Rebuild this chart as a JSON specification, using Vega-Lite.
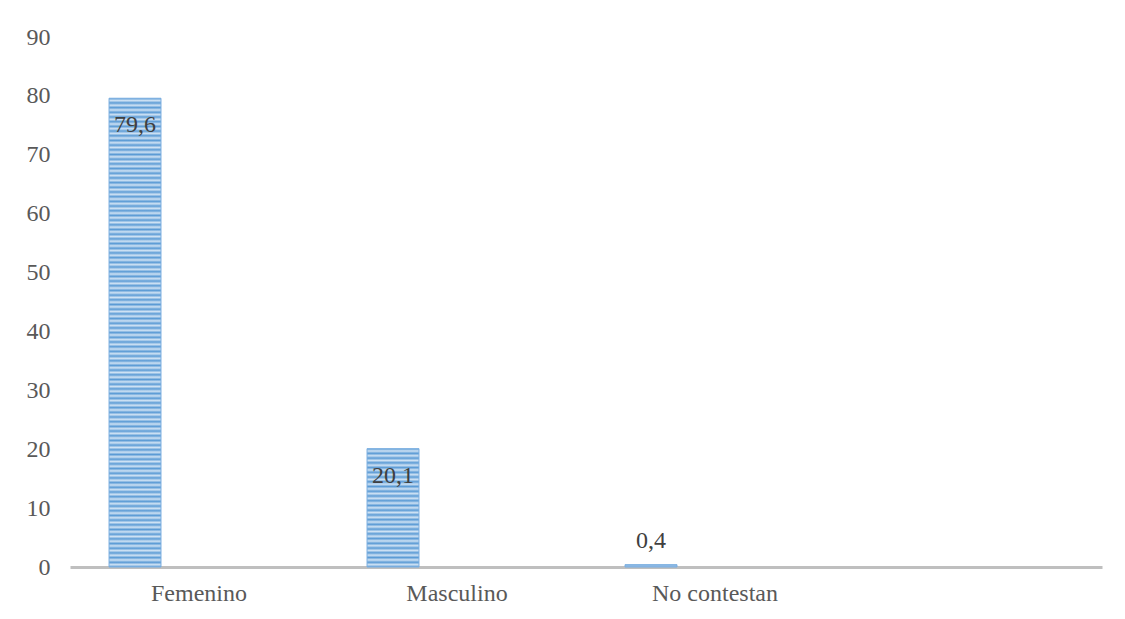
{
  "$schema": "https://vega.github.io/schema/vega-lite/v6.json",
  "width": 1032,
  "height": 530,
  "autosize": "none",
  "padding": {"left": 70, "top": 37, "right": 23, "bottom": 52},
  "background": "white",
  "config": {"view": {"stroke": null}, "font": "Liberation Serif"},
  "data": {
    "values": [
      {"categoria": "Femenino", "serie": "Porcentaje", "valor": 79.6, "etiqueta": "79,6"},
      {"categoria": "Masculino", "serie": "Porcentaje", "valor": 20.1, "etiqueta": "20,1"},
      {"categoria": "No contestan", "serie": "Porcentaje", "valor": 0.4, "etiqueta": "0,4"}
    ]
  },
  "encoding": {
    "x": {
      "field": "categoria",
      "type": "nominal",
      "sort": null,
      "scale": {"domain": ["Femenino", "Masculino", "No contestan", ""], "paddingInner": 0, "paddingOuter": 0},
      "axis": {
        "title": null,
        "labelAngle": 0,
        "ticks": false,
        "domainColor": "#BFBFBF",
        "domainWidth": 3,
        "labelFont": "Liberation Serif",
        "labelFontSize": 24,
        "labelColor": "#595959",
        "labelPadding": 14
      }
    },
    "xOffset": {
      "field": "serie",
      "type": "nominal",
      "scale": {"domain": ["Porcentaje", "vacío"], "paddingInner": 0.594, "paddingOuter": 0.305}
    },
    "y": {
      "field": "valor",
      "type": "quantitative",
      "scale": {"domain": [0, 90], "nice": false},
      "axis": {
        "title": null,
        "values": [0, 10, 20, 30, 40, 50, 60, 70, 80, 90],
        "grid": false,
        "domain": false,
        "ticks": false,
        "labelPadding": 20,
        "labelFont": "Liberation Serif",
        "labelFontSize": 24,
        "labelColor": "#595959"
      }
    }
  },
  "layer": [
    {
      "mark": {"type": "bar", "stroke": "#7AAEE0", "strokeWidth": 1},
      "encoding": {
        "color": {
          "condition": [
            {
              "test": "datum.categoria === 'Femenino'",
              "value": {
                "gradient": "linear", "x1": 0, "y1": 0, "x2": 0, "y2": 1,
                "stops": [
{"offset":0,"color":"#5B9BD5"},{"offset":0.005,"color":"#CFE2F4"},
{"offset":0.01,"color":"#5B9BD5"},{"offset":0.015,"color":"#CFE2F4"},
{"offset":0.02,"color":"#5B9BD5"},{"offset":0.025,"color":"#CFE2F4"},
{"offset":0.03,"color":"#5B9BD5"},{"offset":0.035,"color":"#CFE2F4"},
{"offset":0.04,"color":"#5B9BD5"},{"offset":0.045,"color":"#CFE2F4"},
{"offset":0.05,"color":"#5B9BD5"},{"offset":0.055,"color":"#CFE2F4"},
{"offset":0.06,"color":"#5B9BD5"},{"offset":0.065,"color":"#CFE2F4"},
{"offset":0.07,"color":"#5B9BD5"},{"offset":0.075,"color":"#CFE2F4"},
{"offset":0.08,"color":"#5B9BD5"},{"offset":0.085,"color":"#CFE2F4"},
{"offset":0.09,"color":"#5B9BD5"},{"offset":0.095,"color":"#CFE2F4"},
{"offset":0.1,"color":"#5B9BD5"},{"offset":0.105,"color":"#CFE2F4"},
{"offset":0.11,"color":"#5B9BD5"},{"offset":0.115,"color":"#CFE2F4"},
{"offset":0.12,"color":"#5B9BD5"},{"offset":0.125,"color":"#CFE2F4"},
{"offset":0.13,"color":"#5B9BD5"},{"offset":0.135,"color":"#CFE2F4"},
{"offset":0.14,"color":"#5B9BD5"},{"offset":0.145,"color":"#CFE2F4"},
{"offset":0.15,"color":"#5B9BD5"},{"offset":0.155,"color":"#CFE2F4"},
{"offset":0.16,"color":"#5B9BD5"},{"offset":0.165,"color":"#CFE2F4"},
{"offset":0.17,"color":"#5B9BD5"},{"offset":0.175,"color":"#CFE2F4"},
{"offset":0.18,"color":"#5B9BD5"},{"offset":0.185,"color":"#CFE2F4"},
{"offset":0.19,"color":"#5B9BD5"},{"offset":0.195,"color":"#CFE2F4"},
{"offset":0.2,"color":"#5B9BD5"},{"offset":0.205,"color":"#CFE2F4"},
{"offset":0.21,"color":"#5B9BD5"},{"offset":0.215,"color":"#CFE2F4"},
{"offset":0.22,"color":"#5B9BD5"},{"offset":0.225,"color":"#CFE2F4"},
{"offset":0.23,"color":"#5B9BD5"},{"offset":0.235,"color":"#CFE2F4"},
{"offset":0.24,"color":"#5B9BD5"},{"offset":0.245,"color":"#CFE2F4"},
{"offset":0.25,"color":"#5B9BD5"},{"offset":0.255,"color":"#CFE2F4"},
{"offset":0.26,"color":"#5B9BD5"},{"offset":0.265,"color":"#CFE2F4"},
{"offset":0.27,"color":"#5B9BD5"},{"offset":0.275,"color":"#CFE2F4"},
{"offset":0.28,"color":"#5B9BD5"},{"offset":0.285,"color":"#CFE2F4"},
{"offset":0.29,"color":"#5B9BD5"},{"offset":0.295,"color":"#CFE2F4"},
{"offset":0.3,"color":"#5B9BD5"},{"offset":0.305,"color":"#CFE2F4"},
{"offset":0.31,"color":"#5B9BD5"},{"offset":0.315,"color":"#CFE2F4"},
{"offset":0.32,"color":"#5B9BD5"},{"offset":0.325,"color":"#CFE2F4"},
{"offset":0.33,"color":"#5B9BD5"},{"offset":0.335,"color":"#CFE2F4"},
{"offset":0.34,"color":"#5B9BD5"},{"offset":0.345,"color":"#CFE2F4"},
{"offset":0.35,"color":"#5B9BD5"},{"offset":0.355,"color":"#CFE2F4"},
{"offset":0.36,"color":"#5B9BD5"},{"offset":0.365,"color":"#CFE2F4"},
{"offset":0.37,"color":"#5B9BD5"},{"offset":0.375,"color":"#CFE2F4"},
{"offset":0.38,"color":"#5B9BD5"},{"offset":0.385,"color":"#CFE2F4"},
{"offset":0.39,"color":"#5B9BD5"},{"offset":0.395,"color":"#CFE2F4"},
{"offset":0.4,"color":"#5B9BD5"},{"offset":0.405,"color":"#CFE2F4"},
{"offset":0.41,"color":"#5B9BD5"},{"offset":0.415,"color":"#CFE2F4"},
{"offset":0.42,"color":"#5B9BD5"},{"offset":0.425,"color":"#CFE2F4"},
{"offset":0.43,"color":"#5B9BD5"},{"offset":0.435,"color":"#CFE2F4"},
{"offset":0.44,"color":"#5B9BD5"},{"offset":0.445,"color":"#CFE2F4"},
{"offset":0.45,"color":"#5B9BD5"},{"offset":0.455,"color":"#CFE2F4"},
{"offset":0.46,"color":"#5B9BD5"},{"offset":0.465,"color":"#CFE2F4"},
{"offset":0.47,"color":"#5B9BD5"},{"offset":0.475,"color":"#CFE2F4"},
{"offset":0.48,"color":"#5B9BD5"},{"offset":0.485,"color":"#CFE2F4"},
{"offset":0.49,"color":"#5B9BD5"},{"offset":0.495,"color":"#CFE2F4"},
{"offset":0.5,"color":"#5B9BD5"},{"offset":0.505,"color":"#CFE2F4"},
{"offset":0.51,"color":"#5B9BD5"},{"offset":0.515,"color":"#CFE2F4"},
{"offset":0.52,"color":"#5B9BD5"},{"offset":0.525,"color":"#CFE2F4"},
{"offset":0.53,"color":"#5B9BD5"},{"offset":0.535,"color":"#CFE2F4"},
{"offset":0.54,"color":"#5B9BD5"},{"offset":0.545,"color":"#CFE2F4"},
{"offset":0.55,"color":"#5B9BD5"},{"offset":0.555,"color":"#CFE2F4"},
{"offset":0.56,"color":"#5B9BD5"},{"offset":0.565,"color":"#CFE2F4"},
{"offset":0.57,"color":"#5B9BD5"},{"offset":0.575,"color":"#CFE2F4"},
{"offset":0.58,"color":"#5B9BD5"},{"offset":0.585,"color":"#CFE2F4"},
{"offset":0.59,"color":"#5B9BD5"},{"offset":0.595,"color":"#CFE2F4"},
{"offset":0.6,"color":"#5B9BD5"},{"offset":0.605,"color":"#CFE2F4"},
{"offset":0.61,"color":"#5B9BD5"},{"offset":0.615,"color":"#CFE2F4"},
{"offset":0.62,"color":"#5B9BD5"},{"offset":0.625,"color":"#CFE2F4"},
{"offset":0.63,"color":"#5B9BD5"},{"offset":0.635,"color":"#CFE2F4"},
{"offset":0.64,"color":"#5B9BD5"},{"offset":0.645,"color":"#CFE2F4"},
{"offset":0.65,"color":"#5B9BD5"},{"offset":0.655,"color":"#CFE2F4"},
{"offset":0.66,"color":"#5B9BD5"},{"offset":0.665,"color":"#CFE2F4"},
{"offset":0.67,"color":"#5B9BD5"},{"offset":0.675,"color":"#CFE2F4"},
{"offset":0.68,"color":"#5B9BD5"},{"offset":0.685,"color":"#CFE2F4"},
{"offset":0.69,"color":"#5B9BD5"},{"offset":0.695,"color":"#CFE2F4"},
{"offset":0.7,"color":"#5B9BD5"},{"offset":0.705,"color":"#CFE2F4"},
{"offset":0.71,"color":"#5B9BD5"},{"offset":0.715,"color":"#CFE2F4"},
{"offset":0.72,"color":"#5B9BD5"},{"offset":0.725,"color":"#CFE2F4"},
{"offset":0.73,"color":"#5B9BD5"},{"offset":0.735,"color":"#CFE2F4"},
{"offset":0.74,"color":"#5B9BD5"},{"offset":0.745,"color":"#CFE2F4"},
{"offset":0.75,"color":"#5B9BD5"},{"offset":0.755,"color":"#CFE2F4"},
{"offset":0.76,"color":"#5B9BD5"},{"offset":0.765,"color":"#CFE2F4"},
{"offset":0.77,"color":"#5B9BD5"},{"offset":0.775,"color":"#CFE2F4"},
{"offset":0.78,"color":"#5B9BD5"},{"offset":0.785,"color":"#CFE2F4"},
{"offset":0.79,"color":"#5B9BD5"},{"offset":0.795,"color":"#CFE2F4"},
{"offset":0.8,"color":"#5B9BD5"},{"offset":0.805,"color":"#CFE2F4"},
{"offset":0.81,"color":"#5B9BD5"},{"offset":0.815,"color":"#CFE2F4"},
{"offset":0.82,"color":"#5B9BD5"},{"offset":0.825,"color":"#CFE2F4"},
{"offset":0.83,"color":"#5B9BD5"},{"offset":0.835,"color":"#CFE2F4"},
{"offset":0.84,"color":"#5B9BD5"},{"offset":0.845,"color":"#CFE2F4"},
{"offset":0.85,"color":"#5B9BD5"},{"offset":0.855,"color":"#CFE2F4"},
{"offset":0.86,"color":"#5B9BD5"},{"offset":0.865,"color":"#CFE2F4"},
{"offset":0.87,"color":"#5B9BD5"},{"offset":0.875,"color":"#CFE2F4"},
{"offset":0.88,"color":"#5B9BD5"},{"offset":0.885,"color":"#CFE2F4"},
{"offset":0.89,"color":"#5B9BD5"},{"offset":0.895,"color":"#CFE2F4"},
{"offset":0.9,"color":"#5B9BD5"},{"offset":0.905,"color":"#CFE2F4"},
{"offset":0.91,"color":"#5B9BD5"},{"offset":0.915,"color":"#CFE2F4"},
{"offset":0.92,"color":"#5B9BD5"},{"offset":0.925,"color":"#CFE2F4"},
{"offset":0.93,"color":"#5B9BD5"},{"offset":0.935,"color":"#CFE2F4"},
{"offset":0.94,"color":"#5B9BD5"},{"offset":0.945,"color":"#CFE2F4"},
{"offset":0.95,"color":"#5B9BD5"},{"offset":0.955,"color":"#CFE2F4"},
{"offset":0.96,"color":"#5B9BD5"},{"offset":0.965,"color":"#CFE2F4"},
{"offset":0.97,"color":"#5B9BD5"},{"offset":0.975,"color":"#CFE2F4"},
{"offset":0.98,"color":"#5B9BD5"},{"offset":0.985,"color":"#CFE2F4"},
{"offset":0.99,"color":"#5B9BD5"},{"offset":0.995,"color":"#CFE2F4"},
{"offset":1,"color":"#5B9BD5"}
                ]
              }
            },
            {
              "test": "datum.categoria === 'Masculino'",
              "value": {
                "gradient": "linear", "x1": 0, "y1": 0, "x2": 0, "y2": 1,
                "stops": [
{"offset":0,"color":"#5B9BD5"},{"offset":0.02,"color":"#CFE2F4"},
{"offset":0.04,"color":"#5B9BD5"},{"offset":0.06,"color":"#CFE2F4"},
{"offset":0.08,"color":"#5B9BD5"},{"offset":0.1,"color":"#CFE2F4"},
{"offset":0.12,"color":"#5B9BD5"},{"offset":0.14,"color":"#CFE2F4"},
{"offset":0.16,"color":"#5B9BD5"},{"offset":0.18,"color":"#CFE2F4"},
{"offset":0.2,"color":"#5B9BD5"},{"offset":0.22,"color":"#CFE2F4"},
{"offset":0.24,"color":"#5B9BD5"},{"offset":0.26,"color":"#CFE2F4"},
{"offset":0.28,"color":"#5B9BD5"},{"offset":0.3,"color":"#CFE2F4"},
{"offset":0.32,"color":"#5B9BD5"},{"offset":0.34,"color":"#CFE2F4"},
{"offset":0.36,"color":"#5B9BD5"},{"offset":0.38,"color":"#CFE2F4"},
{"offset":0.4,"color":"#5B9BD5"},{"offset":0.42,"color":"#CFE2F4"},
{"offset":0.44,"color":"#5B9BD5"},{"offset":0.46,"color":"#CFE2F4"},
{"offset":0.48,"color":"#5B9BD5"},{"offset":0.5,"color":"#CFE2F4"},
{"offset":0.52,"color":"#5B9BD5"},{"offset":0.54,"color":"#CFE2F4"},
{"offset":0.56,"color":"#5B9BD5"},{"offset":0.58,"color":"#CFE2F4"},
{"offset":0.6,"color":"#5B9BD5"},{"offset":0.62,"color":"#CFE2F4"},
{"offset":0.64,"color":"#5B9BD5"},{"offset":0.66,"color":"#CFE2F4"},
{"offset":0.68,"color":"#5B9BD5"},{"offset":0.7,"color":"#CFE2F4"},
{"offset":0.72,"color":"#5B9BD5"},{"offset":0.74,"color":"#CFE2F4"},
{"offset":0.76,"color":"#5B9BD5"},{"offset":0.78,"color":"#CFE2F4"},
{"offset":0.8,"color":"#5B9BD5"},{"offset":0.82,"color":"#CFE2F4"},
{"offset":0.84,"color":"#5B9BD5"},{"offset":0.86,"color":"#CFE2F4"},
{"offset":0.88,"color":"#5B9BD5"},{"offset":0.9,"color":"#CFE2F4"},
{"offset":0.92,"color":"#5B9BD5"},{"offset":0.94,"color":"#CFE2F4"},
{"offset":0.96,"color":"#5B9BD5"},{"offset":0.98,"color":"#CFE2F4"},
{"offset":1,"color":"#5B9BD5"}
                ]
              }
            }
          ],
          "value": "#8DB9E5"
        }
      }
    },
    {
      "transform": [{"filter": "datum.valor > 5"}],
      "mark": {"type": "text", "dy": 27, "font": "Liberation Serif", "fontSize": 24, "color": "#404040"},
      "encoding": {"text": {"field": "etiqueta"}}
    },
    {
      "transform": [{"filter": "datum.valor <= 5"}],
      "mark": {"type": "text", "dy": -24, "font": "Liberation Serif", "fontSize": 24, "color": "#404040"},
      "encoding": {"text": {"field": "etiqueta"}}
    }
  ]
}
